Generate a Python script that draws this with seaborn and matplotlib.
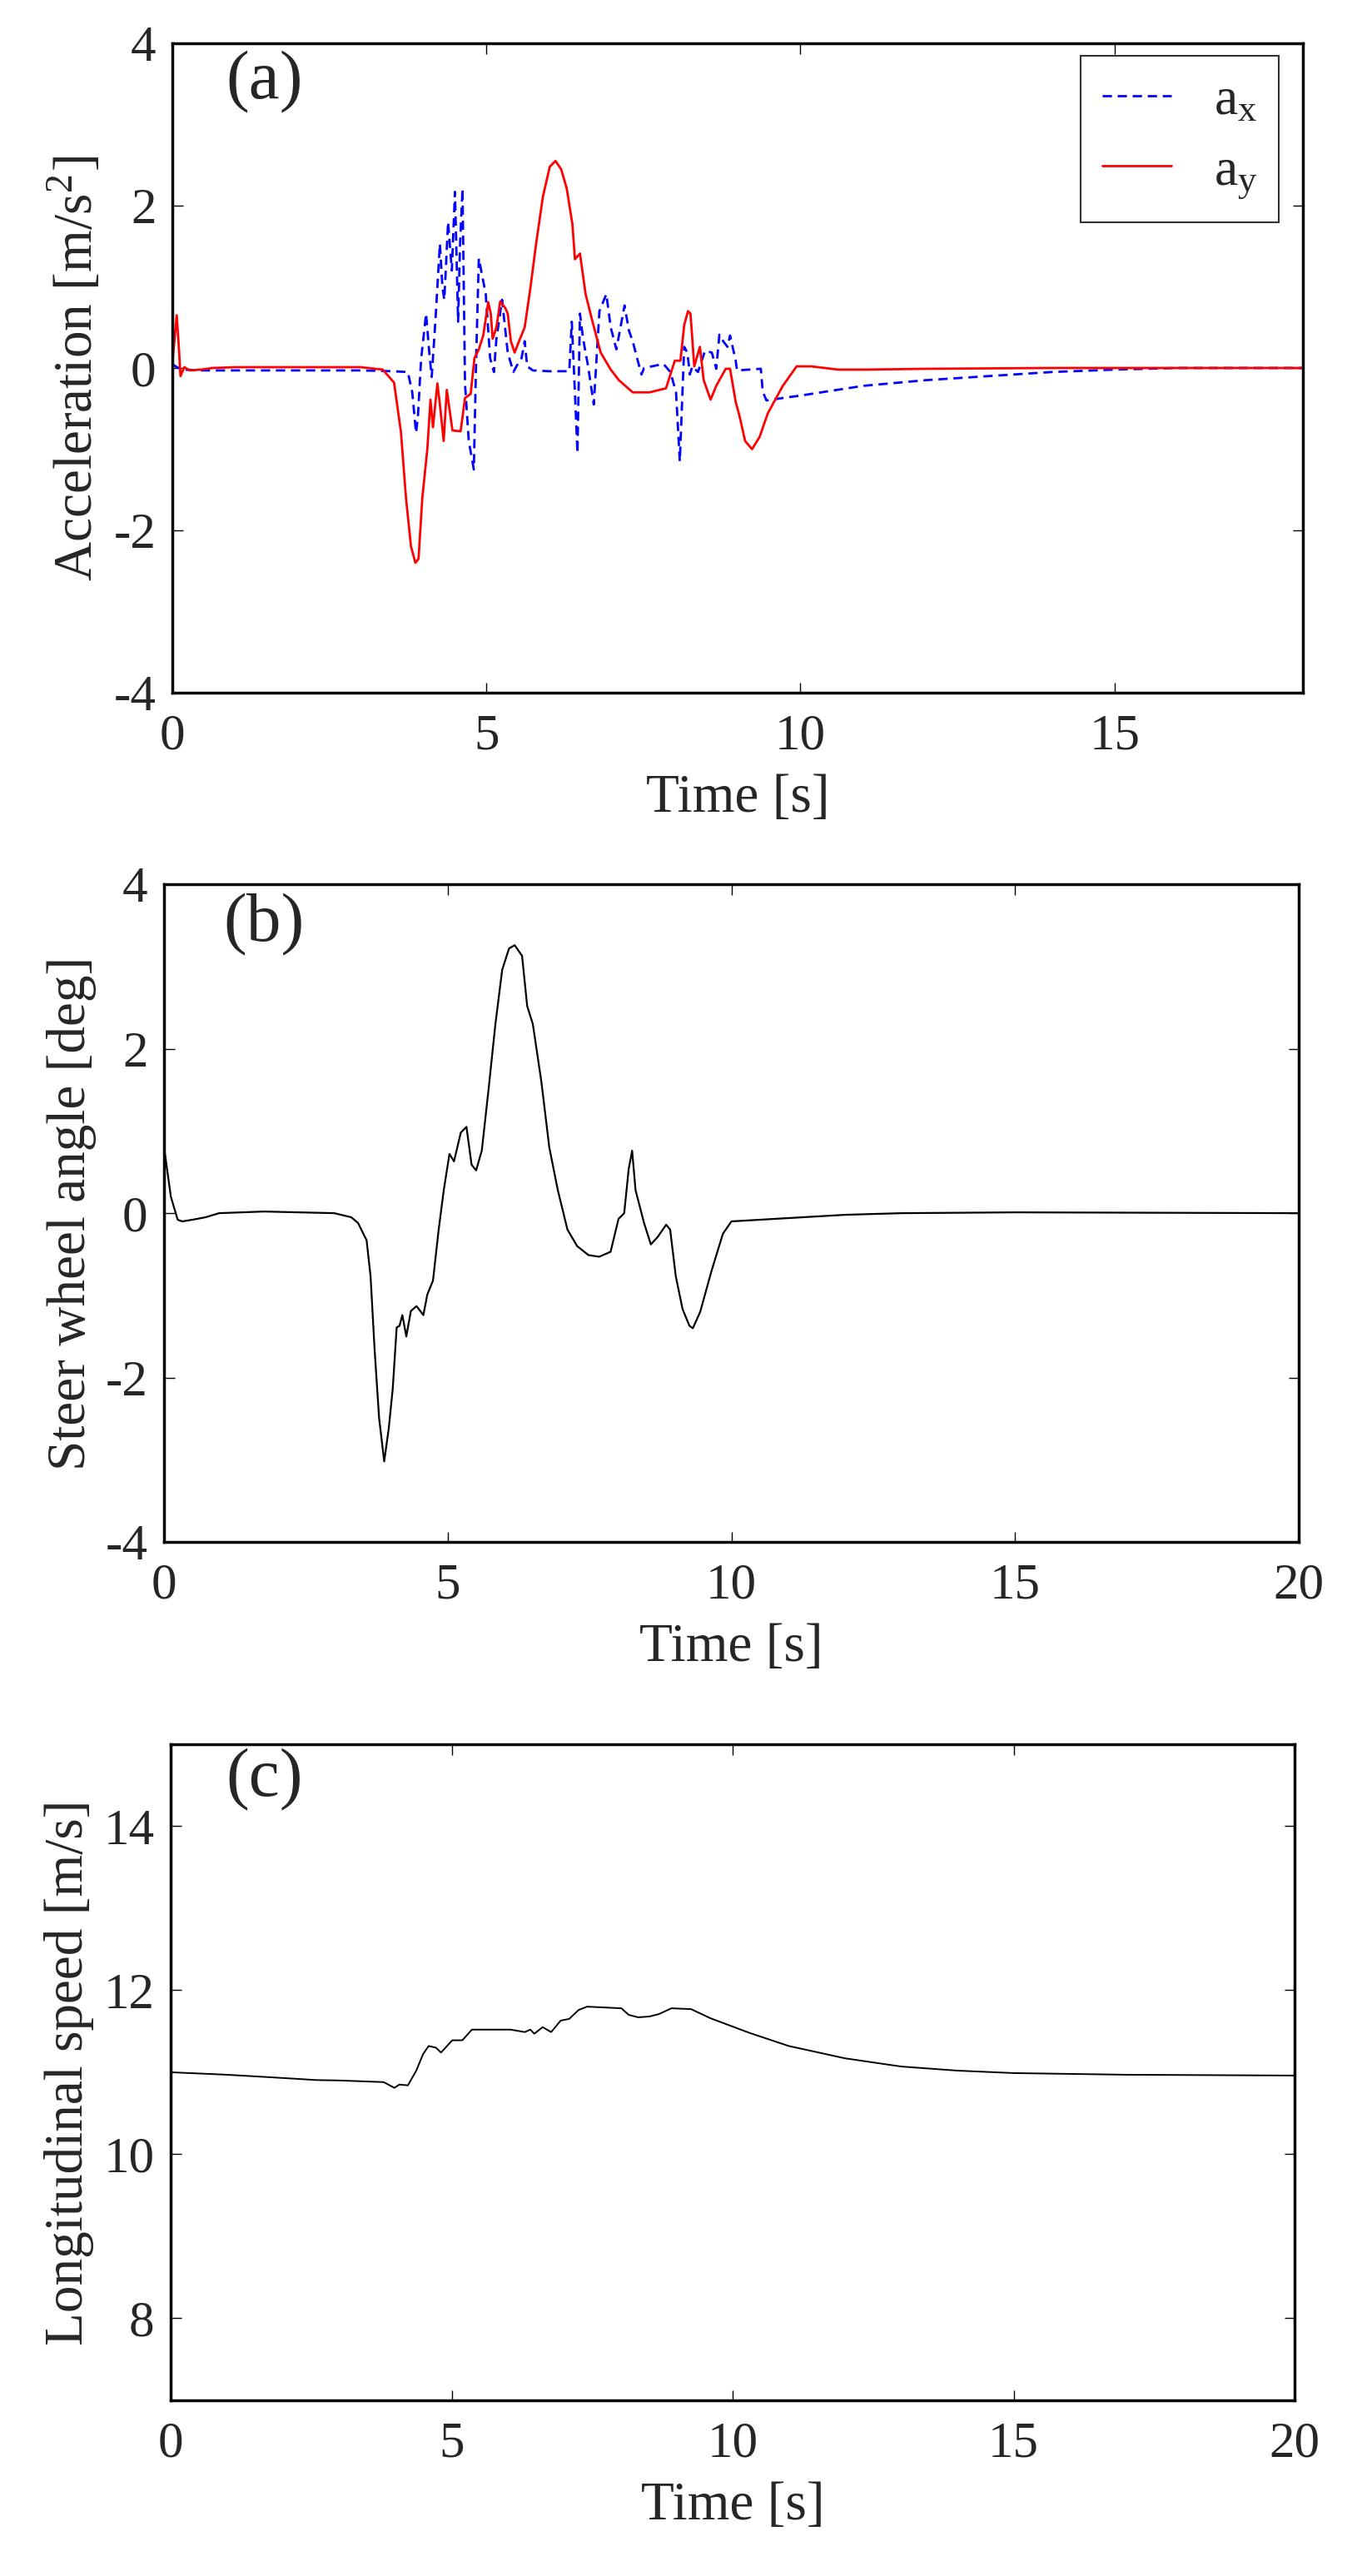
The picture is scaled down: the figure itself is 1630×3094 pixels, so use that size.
import pandas as pd
import matplotlib.pyplot as plt
import seaborn as sns

# ---- data ----
# (a) longitudinal / lateral acceleration
ax_t = [0.0, 0.05, 0.15, 0.5, 1.0, 2.0, 3.0, 3.5, 3.75, 3.82, 3.88, 3.91, 3.96, 4.04, 4.09, 4.13,
        4.19, 4.26, 4.30, 4.33, 4.36, 4.39, 4.45, 4.50, 4.55, 4.58, 4.62, 4.66, 4.72, 4.80, 4.84,
        4.88, 4.99, 5.06, 5.12, 5.16, 5.25, 5.34, 5.43, 5.50, 5.56, 5.61, 5.65, 5.74, 6.00, 6.32,
        6.36, 6.41, 6.45, 6.49, 6.54, 6.62, 6.71, 6.80, 6.91, 6.98, 7.07, 7.20, 7.27, 7.33, 7.40,
        7.47, 7.51, 7.82, 7.93, 8.02, 8.08, 8.15, 8.20, 8.24, 8.28, 8.37, 8.48, 8.59, 8.66, 8.71,
        8.77, 8.84, 8.88, 8.97, 8.99, 9.37, 9.40, 9.46, 9.72, 10.0, 11.0, 12.0, 13.0, 14.0, 15.0,
        16.0, 18.0]
ax_v = [0.05, 0.02, -0.02, -0.03, -0.03, -0.03, -0.03, -0.04, -0.05, -0.30, -0.80, -0.60, 0.10,
        0.67, 0.20, -0.11, 0.60, 1.53, 1.00, 0.84, 1.30, 1.80, 1.20, 2.17, 0.57, 1.50, 2.21,
        -0.20, -0.90, -1.25, 0.20, 1.35, 0.91, 0.12, -0.05, 0.36, 0.84, 0.19, -0.05, 0.05, 0.12,
        0.33, 0.02, -0.03, -0.04, -0.04, 0.57, -0.30, -1.05, 0.67, 0.36, 0.02, -0.45, 0.70, 0.91,
        0.50, 0.23, 0.77, 0.46, 0.33, 0.12, -0.08, 0.00, 0.05, -0.05, -0.30, -1.15, 0.26, 0.19,
        -0.08, 0.02, -0.05, 0.21, 0.19, -0.01, 0.41, 0.33, 0.26, 0.40, 0.09, -0.03, -0.01, -0.29,
        -0.40, -0.37, -0.34, -0.22, -0.15, -0.10, -0.05, -0.02, 0.0, 0.0]

ay_t = [0.0, 0.04, 0.07, 0.10, 0.13, 0.19, 0.28, 0.46, 0.64, 1.0, 2.0, 3.0, 3.35, 3.53, 3.64,
        3.72, 3.80, 3.87, 3.92, 3.98, 4.06, 4.11, 4.15, 4.22, 4.26, 4.32, 4.37, 4.46, 4.59, 4.66,
        4.75, 4.81, 4.88, 4.95, 5.03, 5.07, 5.10, 5.16, 5.22, 5.30, 5.34, 5.39, 5.45, 5.52, 5.61,
        5.70, 5.79, 5.90, 6.01, 6.10, 6.19, 6.28, 6.37, 6.41, 6.49, 6.58, 6.69, 6.82, 6.98, 7.11,
        7.33, 7.60, 7.86, 8.00, 8.09, 8.15, 8.21, 8.25, 8.31, 8.40, 8.46, 8.57, 8.66, 8.81, 8.88,
        8.97, 9.03, 9.12, 9.23, 9.35, 9.48, 9.72, 9.94, 10.17, 10.6, 11.05, 12.0, 14.0, 16.0, 18.0]
ay_v = [0.05, 0.40, 0.65, 0.30, -0.10, 0.01, -0.03, -0.02, 0.0, 0.01, 0.01, 0.01, -0.02, -0.18,
        -0.79, -1.60, -2.20, -2.40, -2.35, -1.60, -1.00, -0.39, -0.73, -0.19, -0.45, -0.90, -0.27,
        -0.77, -0.78, -0.37, -0.32, 0.12, 0.23, 0.40, 0.81, 0.67, 0.36, 0.50, 0.82, 0.74, 0.67,
        0.33, 0.19, 0.33, 0.50, 0.98, 1.52, 2.11, 2.48, 2.55, 2.45, 2.21, 1.77, 1.34, 1.41, 0.91,
        0.57, 0.19, -0.02, -0.15, -0.30, -0.30, -0.25, 0.09, 0.09, 0.53, 0.70, 0.67, 0.02, 0.26,
        -0.15, -0.39, -0.22, -0.01, -0.01, -0.42, -0.59, -0.90, -1.00, -0.85, -0.56, -0.22, 0.02,
        0.02, -0.02, -0.02, -0.01, 0.0, 0.0, 0.0]

# (b) steering wheel angle
sw_t = [0.0, 0.04, 0.12, 0.24, 0.32, 0.5, 0.73, 0.97, 1.76, 3.0, 3.30, 3.42, 3.57, 3.64, 3.71,
        3.79, 3.88, 3.96, 4.03, 4.10, 4.15, 4.20, 4.27, 4.35, 4.45, 4.57, 4.64, 4.74, 4.84, 4.93,
        5.03, 5.11, 5.23, 5.33, 5.42, 5.50, 5.60, 5.72, 5.84, 5.96, 6.08, 6.18, 6.31, 6.40, 6.50,
        6.65, 6.79, 6.94, 7.11, 7.28, 7.48, 7.67, 7.87, 8.01, 8.11, 8.19, 8.25, 8.31, 8.46, 8.58,
        8.70, 8.85, 8.92, 9.02, 9.14, 9.26, 9.32, 9.45, 9.65, 9.85, 10.0, 10.5, 11.0, 12.0, 13.0,
        15.0, 20.0]
sw_v = [0.80, 0.60, 0.20, -0.08, -0.10, -0.08, -0.05, 0.0, 0.02, 0.0, -0.05, -0.12, -0.33, -0.77,
        -1.65, -2.49, -3.02, -2.62, -2.14, -1.39, -1.37, -1.24, -1.50, -1.19, -1.13, -1.24, -0.99,
        -0.82, -0.20, 0.28, 0.72, 0.63, 0.98, 1.05, 0.59, 0.52, 0.76, 1.51, 2.30, 2.96, 3.22,
        3.26, 3.13, 2.52, 2.30, 1.60, 0.80, 0.28, -0.20, -0.40, -0.51, -0.53, -0.47, -0.07, 0.0,
        0.54, 0.76, 0.28, -0.12, -0.38, -0.29, -0.14, -0.20, -0.77, -1.17, -1.37, -1.40, -1.20,
        -0.70, -0.25, -0.10, -0.08, -0.06, -0.02, 0.0, 0.01, 0.0]

# (c) longitudinal speed
sp_t = [0.0, 1.0, 2.0, 2.59, 3.0, 3.79, 3.98, 4.07, 4.22, 4.37, 4.49, 4.59, 4.72, 4.81, 5.01,
        5.19, 5.36, 6.05, 6.30, 6.40, 6.47, 6.62, 6.77, 6.94, 7.09, 7.26, 7.41, 8.02, 8.15, 8.32,
        8.52, 8.69, 8.91, 9.26, 9.60, 10.30, 11.0, 12.0, 13.0, 14.0, 15.0, 17.0, 20.0]
sp_v = [11.0, 10.97, 10.93, 10.905, 10.90, 10.88, 10.81, 10.85, 10.84, 11.02, 11.22, 11.32, 11.30,
        11.24, 11.39, 11.39, 11.52, 11.52, 11.49, 11.52, 11.47, 11.55, 11.49, 11.63, 11.65,
        11.76, 11.80, 11.78, 11.70, 11.67, 11.68, 11.71, 11.78, 11.77, 11.66, 11.48, 11.32,
        11.17, 11.07, 11.02, 10.99, 10.97, 10.96]

sns.set_style("ticks")
plt.rcParams['font.family'] = ['Liberation Serif', 'DejaVu Serif']
plt.rcParams['mathtext.fontset'] = 'stix'
plt.rcParams['axes.unicode_minus'] = False

fig = plt.figure(figsize=(16.3, 30.94), dpi=100)
ax1 = fig.add_axes([0.1270, 0.7311, 0.8331, 0.2521])
ax2 = fig.add_axes([0.1209, 0.4014, 0.8362, 0.2553])
ax3 = fig.add_axes([0.1258, 0.0682, 0.8282, 0.2547])


def style(ax, xmax, xticks, ylim, yticks, ylabel, tag, tag_xy):
    ax.set_xlim(0, xmax)
    ax.set_ylim(*ylim)
    ax.set_xticks(xticks)
    ax.set_yticks(yticks)
    ax.tick_params(direction='in', top=True, right=True, length=9, width=1,
                   labelsize=44, color='black')
    ax.tick_params(axis='x', pad=18)
    ax.tick_params(axis='y', pad=14)
    for s in ax.spines.values():
        s.set_linewidth(2.5)
        s.set_color('black')
    ax.set_xlabel("Time [s]", fontsize=47, labelpad=12)
    ax.set_ylabel(ylabel, fontsize=47, labelpad=8)
    ax.text(tag_xy[0], tag_xy[1], tag, fontsize=60, ha='center', va='center')


# (a)
sns.lineplot(x=ax_t, y=ax_v, ax=ax1, color='blue', lw=2, linestyle=(0, (4, 2.5)),
             label=r'$\mathregular{a_x}$', estimator=None, sort=False)
sns.lineplot(x=ay_t, y=ay_v, ax=ax1, color='red', lw=2,
             label=r'$\mathregular{a_y}$', estimator=None, sort=False)
style(ax1, 18, [0, 5, 10, 15], (-4, 4), [-4, -2, 0, 2, 4],
      r"Acceleration [m/s$^\mathregular{2}$]", "(a)", (1.46, 3.52))
leg = ax1.legend(loc='upper right', bbox_to_anchor=(0.979, 0.981), borderaxespad=0,
                 fontsize=46, frameon=True, fancybox=False, edgecolor='black',
                 handlelength=1.3, labelspacing=0.4, borderpad=0.4)
leg.get_frame().set_linewidth(1.5)

# (b)
sns.lineplot(x=sw_t, y=sw_v, ax=ax2, color='black', lw=1.6, estimator=None, sort=False)
style(ax2, 20, [0, 5, 10, 15, 20], (-4, 4), [-4, -2, 0, 2, 4],
      "Steer wheel angle [deg]", "(b)", (1.76, 3.51))

# (c)
sns.lineplot(x=sp_t, y=sp_v, ax=ax3, color='black', lw=1.4, estimator=None, sort=False)
style(ax3, 20, [0, 5, 10, 15, 20], (7, 15), [8, 10, 12, 14],
      "Longitudinal speed [m/s]", "(c)", (1.67, 14.57))

fig.savefig("out.png", dpi=100)
